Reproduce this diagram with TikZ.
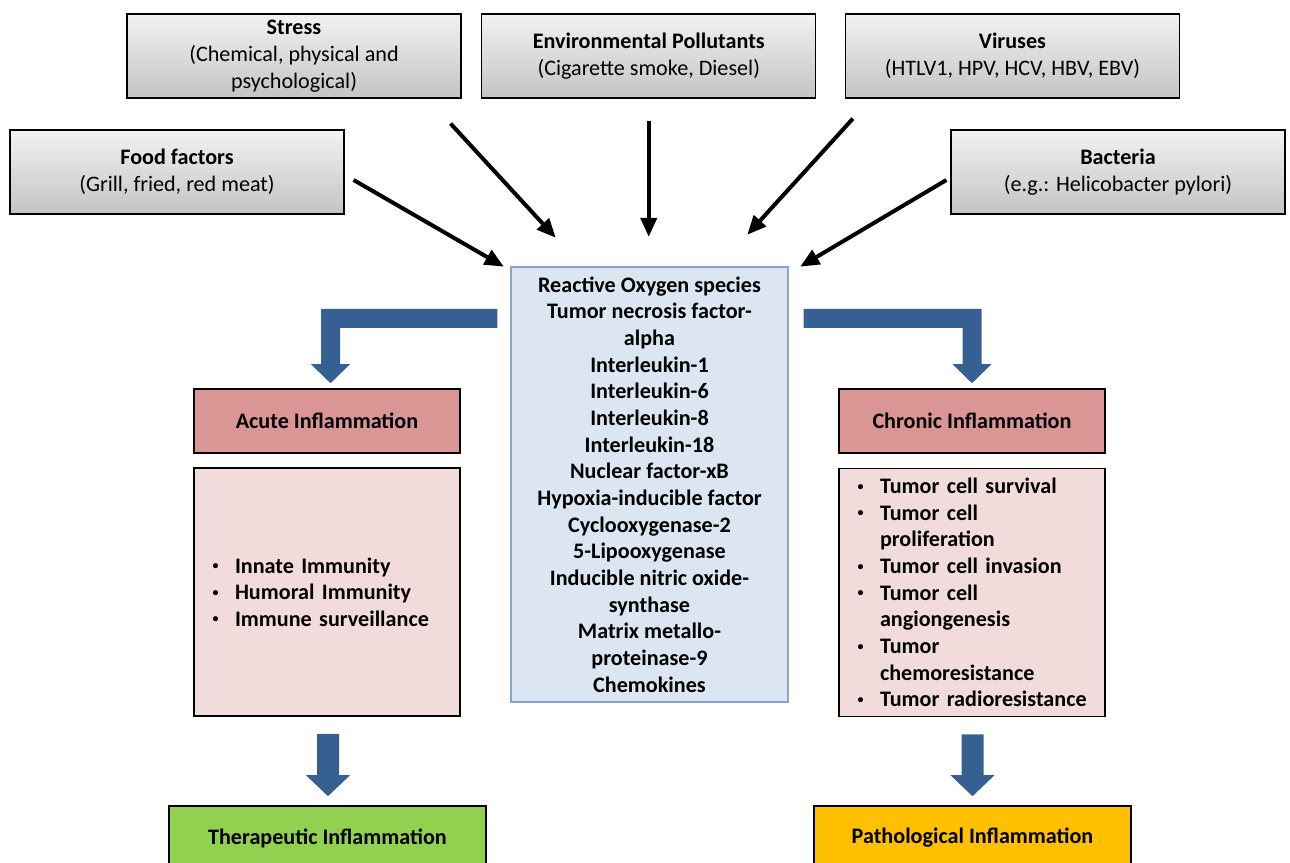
\documentclass[tikz,border=0pt]{standalone}
\usepackage{fontspec}
\setmainfont{Carlito}
\usetikzlibrary{arrows.meta,calc}
\definecolor{arrblue}{HTML}{376092}
\definecolor{cfill}{HTML}{DCE6F2}
\definecolor{cdraw}{HTML}{8AA5C8}
\definecolor{hdrfill}{HTML}{D99694}
\definecolor{listfill}{HTML}{F2DCDB}
\definecolor{gfill}{HTML}{92D050}
\definecolor{yfill}{HTML}{FFC000}
\definecolor{gtop}{HTML}{F2F2F2}
\definecolor{gbot}{HTML}{C4C4C4}
\newcommand\fs{\fontsize{16.6}{20}\selectfont}
\newcommand\mybul{\makebox[17.25pt][l]{\hspace*{0.5pt}\raisebox{0.32ex}{\fontsize{9}{9}\selectfont\textbullet}}}
\newcommand\myind{\hspace*{17.25pt}}
\newcommand\myelbow[3]{%
\fill[arrblue] ($(#1)+(0,-9.5)$) -- ($(#2 |- #1)+({(#3)*9.5},-9.5)$) -- ($(#2)+({(#3)*9.5},-19)$) -- ($(#2)+({(#3)*19.5},-19)$) -- (#2) -- ($(#2)+({-(#3)*19.5},-19)$) -- ($(#2)+({-(#3)*9.5},-19)$) -- ($(#2 |- #1)+({-(#3)*9.5},9.5)$) -- ($(#1)+(0,9.5)$) -- cycle;}
\newcommand\mydown[2]{%
\fill[arrblue] ($(#1)+(-11,0)$) -- ($(#2)+(-11,-21)$) -- ($(#2)+(-22,-21)$) -- (#2) -- ($(#2)+(22,-21)$) -- ($(#2)+(11,-21)$) -- ($(#1)+(11,0)$) -- cycle;}
\begin{document}
\begin{tikzpicture}[x=0.75pt,y=-0.75pt,
  every node/.style={font=\fs},
  src/.style={draw=black,line width=0.9pt,top color=gtop,bottom color=gbot,
    minimum width=250.5pt,minimum height=63pt,inner sep=0pt,align=center},
  hdr/.style={draw=black,line width=1.2pt,fill=hdrfill,minimum width=199.5pt,
    minimum height=48pt,inner sep=0pt,font=\fs\bfseries},
  lst/.style={draw=black,line width=1.2pt,fill=listfill,minimum height=186pt,
    inner xsep=13.5pt,text width=172.5pt,align=left,font=\fs\bfseries},
  res/.style={draw=black,line width=1.2pt,minimum width=237.75pt,
    minimum height=48pt,inner sep=0pt,font=\fs\bfseries},
  blk/.style={line width=3pt,-{Triangle[length=14pt,width=13pt,line width=0pt]}}]
\useasboundingbox (0,0) rectangle (1290,863);
\fill[white] (0,0) rectangle (1290,863);
\clip (0,0) rectangle (1290,863);

% source boxes
\node[src] (stress) at (294,56) {\textbf{Stress}\\(Chemical, physical and\\psychological)};
\node[src] (env) at (648.75,56) {\textbf{Environmental Pollutants}\\(Cigarette smoke, Diesel)};
\node[src] (vir) at (1012.5,56) {\textbf{Viruses}\\(HTLV1, HPV, HCV, HBV, EBV)};
\node[src] (food) at (177,172) {\textbf{Food factors}\\(Grill, fried, red meat)};
\node[src] (bac) at (1118,172) {\textbf{Bacteria}\\(e.g.: Helicobacter pylori)};

% central box
\node[draw=cdraw,line width=0.8pt,fill=cfill,minimum width=207.75pt,minimum height=326.25pt,
  inner sep=0pt,align=center,font=\fs\bfseries] (cbox) at (649.5,484.5)
  {Reactive Oxygen species\\Tumor necrosis factor-\\alpha\\Interleukin-1\\Interleukin-6\\Interleukin-8\\Interleukin-18\\Nuclear factor-xB\\Hypoxia-inducible factor\\Cyclooxygenase-2\\5-Lipooxygenase\\Inducible nitric oxide-\\synthase\\Matrix metallo-\\proteinase-9\\Chemokines};

% headers
\node[hdr] (acute) at (327,421) {Acute Inflammation};
\node[hdr] (chronic) at (972,421) {Chronic Inflammation};

% lists
\node[lst] (acutelist) at (327,592) {\mbox{\mybul Innate Immunity}\\\mbox{\mybul Humoral Immunity}\\\mbox{\mybul Immune surveillance}};
\node[lst] (chroniclist) at (972,592.5) {\mbox{\mybul Tumor cell survival}\\\mbox{\mybul Tumor cell}\\\mbox{\myind proliferation}\\\mbox{\mybul Tumor cell invasion}\\\mbox{\mybul Tumor cell}\\\mbox{\myind angiongenesis}\\\mbox{\mybul Tumor}\\\mbox{\myind chemoresistance}\\\mbox{\mybul Tumor radioresistance}};

% results
\node[res,fill=gfill] (thera) at (327.5,838) {Therapeutic Inflammation};
\node[res,fill=yfill] (patho) at (972.5,838) {Pathological Inflammation};

% black arrows
\draw[blk] ($(food.east)+(9,8)$) -- ($(cbox.north west)+(-7,0)$);
\draw[blk] ($(stress.south east)+(-11,25)$) -- ($(cbox.north west)+(45,-29)$);
\draw[blk] ($(env.south)+(0,22)$) -- ($(env.south |- cbox.north)+(0,-30)$);
\draw[blk] ($(vir.south west)+(8,20)$) -- ($(cbox.north east)+(-41,-32)$);
\draw[blk] ($(bac.west)+(-4,8)$) -- ($(cbox.north east)+(12,0)$);

% blue elbow arrows
\coordinate (Ls) at ($(cbox.north west)+(-13,52)$);
\coordinate (Lt) at ($(acute.north)+(3.5,-5)$);
\coordinate (Rs) at ($(cbox.north east)+(15,52)$);
\coordinate (Rt) at ($(chronic.north)+(0,-5)$);
\myelbow{Ls}{Lt}{-1}
\myelbow{Rs}{Rt}{1}

% blue down arrows
\coordinate (ds1) at ($(acutelist.south)+(1,17)$);
\coordinate (dt1) at ($(thera.north)+(0.5,-9)$);
\coordinate (ds2) at ($(chroniclist.south)+(0.5,17)$);
\coordinate (dt2) at ($(patho.north)+(0,-9)$);
\mydown{ds1}{dt1}
\mydown{ds2}{dt2}
\end{tikzpicture}
\end{document}
